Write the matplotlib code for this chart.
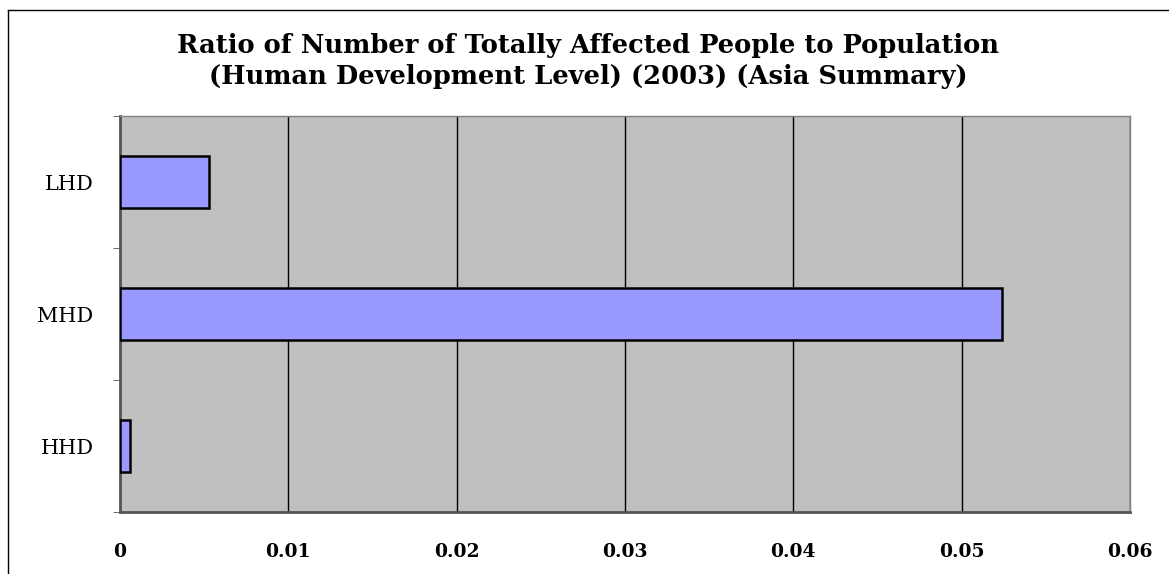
import matplotlib
matplotlib.use("Agg")
import matplotlib.pyplot as plt
from matplotlib.lines import Line2D

categories = ["HHD", "MHD", "LHD"]
values = [0.0006, 0.0524, 0.0053]
xticks = [0, 0.01, 0.02, 0.03, 0.04, 0.05, 0.06]
xtick_labels = ["0", "0.01", "0.02", "0.03", "0.04", "0.05", "0.06"]
title_lines = ["Ratio of Number of Totally Affected People to Population",
               "(Human Development Level) (2003) (Asia Summary)"]

W, H = 1169, 574
fig = plt.figure(figsize=(W / 100, H / 100), dpi=100)
fig.patch.set_facecolor("white")

left, right, top, bottom = 120, 1130, 116, 512
ax = fig.add_axes([left / W, 1 - bottom / H, (right - left) / W, (bottom - top) / H])
ax.set_facecolor("#C0C0C0")

ypos = list(range(len(categories)))
ax.barh(ypos, values, height=0.39, color="#9999FF", edgecolor="black", linewidth=1.8, zorder=3)

ax.set_xlim(0, 0.06)
ax.set_ylim(-0.5, len(categories) - 0.5)
ax.set_xticks(xticks)
ax.set_xticklabels(xtick_labels, fontfamily="DejaVu Serif", fontweight="bold", fontsize=13.5)
ax.tick_params(axis="x", length=0, pad=22)
ax.xaxis.grid(True, color="black", linewidth=1.0, zorder=1)
ax.set_axisbelow(True)

ax.set_yticks(ypos)
ax.set_yticklabels(categories, fontfamily="DejaVu Serif", fontsize=15)
ax.tick_params(axis="y", which="major", length=0, pad=19)
ax.set_yticks([-0.5 + i for i in range(len(categories) + 1)], minor=True)
ax.tick_params(axis="y", which="minor", length=5, direction="out", color="#555555")

for s in ["top", "right"]:
    ax.spines[s].set_color("#808080")
    ax.spines[s].set_linewidth(1.0)
for s in ["left", "bottom"]:
    ax.spines[s].set_color("#555555")
    ax.spines[s].set_linewidth(2.0)

baselines = [53, 84]
for line, b in zip(title_lines, baselines):
    fig.text(588 / W, 1 - b / H, line, ha="center", va="baseline", fontfamily="DejaVu Serif",
             fontweight="bold", fontsize=18.5)

# outer frame (left and top edges visible)
fig.add_artist(Line2D([8 / W, 8 / W], [1 - 10 / H, 0], transform=fig.transFigure, color="black", linewidth=1.0))
fig.add_artist(Line2D([8 / W, 1], [1 - 10 / H, 1 - 10 / H], transform=fig.transFigure, color="black", linewidth=1.0))

fig.savefig("out.png", dpi=100)
